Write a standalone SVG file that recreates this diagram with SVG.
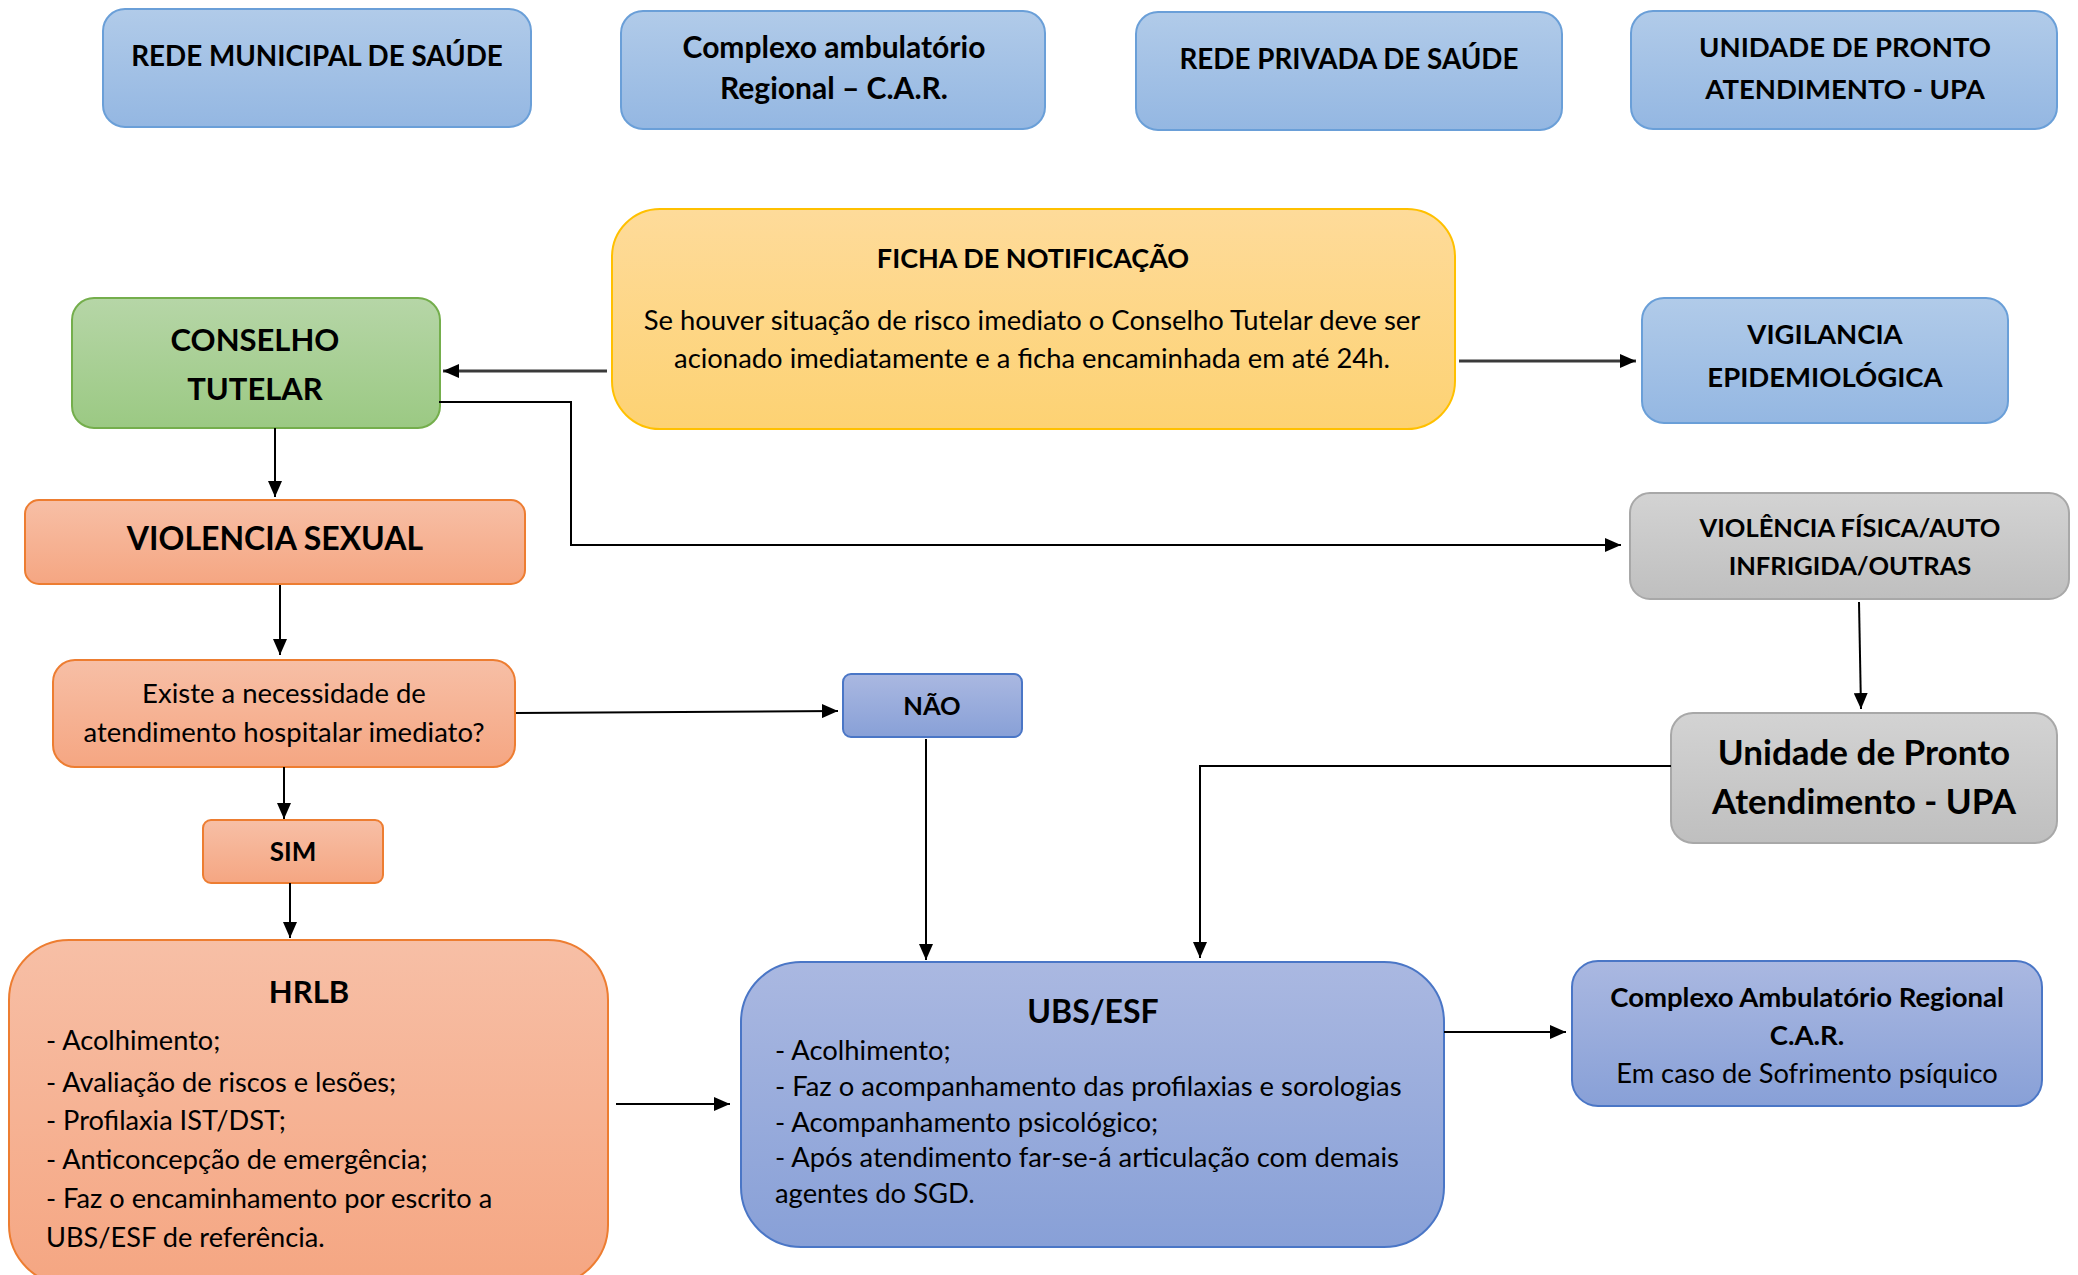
<svg xmlns="http://www.w3.org/2000/svg" width="2078" height="1275" viewBox="0 0 2078 1275">
<defs>
<linearGradient id="gBlue" x1="0" y1="0" x2="0" y2="1"><stop offset="0" stop-color="#b1cbe9"/><stop offset="1" stop-color="#94b7e2"/></linearGradient>
<linearGradient id="gYellow" x1="0" y1="0" x2="0" y2="1"><stop offset="0" stop-color="#fedb9a"/><stop offset="1" stop-color="#fdd273"/></linearGradient>
<linearGradient id="gGreen" x1="0" y1="0" x2="0" y2="1"><stop offset="0" stop-color="#b6d6a7"/><stop offset="1" stop-color="#9bc983"/></linearGradient>
<linearGradient id="gOrange" x1="0" y1="0" x2="0" y2="1"><stop offset="0" stop-color="#f7bfa6"/><stop offset="1" stop-color="#f5a682"/></linearGradient>
<linearGradient id="gGray" x1="0" y1="0" x2="0" y2="1"><stop offset="0" stop-color="#d3d3d3"/><stop offset="1" stop-color="#bfbfbf"/></linearGradient>
<linearGradient id="gPurple" x1="0" y1="0" x2="0" y2="1"><stop offset="0" stop-color="#aab8e1"/><stop offset="1" stop-color="#88a0d7"/></linearGradient>
<marker id="arr" viewBox="0 0 16 14" refX="16" refY="7" markerWidth="16" markerHeight="14" markerUnits="userSpaceOnUse" orient="auto">
<path d="M0,0 L16,7 L0,14 Z" fill="#000"/>
</marker>
</defs>
<style>
text{font-family:Lato,"Liberation Sans",sans-serif;fill:#000;}
.b{font-weight:bold;}
.c{text-anchor:middle;}
.blue{fill:url(#gBlue);stroke:#6a9fd8;stroke-width:2;}
.yellow{fill:url(#gYellow);stroke:#ffc000;stroke-width:2;}
.green{fill:url(#gGreen);stroke:#74ae4c;stroke-width:2;}
.orange{fill:url(#gOrange);stroke:#ed7d31;stroke-width:2;}
.gray{fill:url(#gGray);stroke:#a8a8a8;stroke-width:2;}
.purple{fill:url(#gPurple);stroke:#4a76c6;stroke-width:2;}
.con{fill:none;stroke:#000;stroke-width:2;}
.con2{fill:none;stroke:#3a3a3a;stroke-width:3;}
</style>
<rect width="2078" height="1275" fill="#fff"/>

<g id="rede-municipal">
<rect class="blue" x="103" y="9" width="428" height="118" rx="22"/>
<text class="b c" x="317" y="66" font-size="27.8">REDE MUNICIPAL DE SAÚDE</text>
</g>
<g id="complexo-top">
<rect class="blue" x="621" y="11" width="424" height="118" rx="22"/>
<text class="b c" x="834" y="58" font-size="30">Complexo ambulatório</text>
<text class="b c" x="834" y="99" font-size="30">Regional – C.A.R.</text>
</g>
<g id="rede-privada">
<rect class="blue" x="1136" y="12" width="426" height="118" rx="22"/>
<text class="b c" x="1349" y="69" font-size="27.8">REDE PRIVADA DE SAÚDE</text>
</g>
<g id="upa-top">
<rect class="blue" x="1631" y="11" width="426" height="118" rx="22"/>
<text class="b c" x="1845" y="57" font-size="27.5">UNIDADE DE PRONTO</text>
<text class="b c" x="1845" y="99" font-size="27.5">ATENDIMENTO - UPA</text>
</g>

<g id="ficha">
<rect class="yellow" x="612" y="209" width="843" height="220" rx="48"/>
<text class="b c" x="1033" y="268" font-size="27">FICHA DE NOTIFICAÇÃO</text>
<text class="c" x="1032" y="330" font-size="27.4">Se houver situação de risco imediato o Conselho Tutelar deve ser</text>
<text class="c" x="1032" y="368" font-size="27.4">acionado imediatamente e a ficha encaminhada em até 24h.</text>
</g>
<g id="conselho">
<rect class="green" x="72" y="298" width="368" height="130" rx="22"/>
<text class="b c" x="255" y="351" font-size="31">CONSELHO</text>
<text class="b c" x="255" y="400" font-size="31">TUTELAR</text>
</g>
<g id="vigilancia">
<rect class="blue" x="1642" y="298" width="366" height="125" rx="22"/>
<text class="b c" x="1825" y="344" font-size="27.5">VIGILANCIA</text>
<text class="b c" x="1825" y="387" font-size="27.5">EPIDEMIOLÓGICA</text>
</g>
<g id="violencia-sexual">
<rect class="orange" x="25" y="500" width="500" height="84" rx="14"/>
<text class="b c" x="275" y="550" font-size="32">VIOLENCIA SEXUAL</text>
</g>
<g id="violencia-fisica">
<rect class="gray" x="1630" y="493" width="439" height="106" rx="20"/>
<text class="b c" x="1850" y="537" font-size="25.5">VIOLÊNCIA FÍSICA/AUTO</text>
<text class="b c" x="1850" y="575" font-size="25.5">INFRIGIDA/OUTRAS</text>
</g>
<g id="existe">
<rect class="orange" x="53" y="660" width="462" height="107" rx="22"/>
<text class="c" x="284" y="703" font-size="27.5">Existe a necessidade de</text>
<text class="c" x="284" y="742" font-size="27.5">atendimento hospitalar imediato?</text>
</g>
<g id="nao">
<rect class="purple" x="843" y="674" width="179" height="63" rx="8"/>
<text class="b c" x="932" y="715" font-size="25.5">NÃO</text>
</g>
<g id="upa">
<rect class="gray" x="1671" y="713" width="386" height="130" rx="22"/>
<text class="b c" x="1864" y="765" font-size="35">Unidade de Pronto</text>
<text class="b c" x="1864" y="814" font-size="35">Atendimento - UPA</text>
</g>
<g id="sim">
<rect class="orange" x="203" y="820" width="180" height="63" rx="8"/>
<text class="b c" x="293" y="861" font-size="26">SIM</text>
</g>
<g id="hrlb">
<rect class="orange" x="9" y="940" width="599" height="345" rx="60"/>
<text class="b c" x="309" y="1003" font-size="31">HRLB</text>
<text x="46" y="1050" font-size="27.2">- Acolhimento;</text>
<text x="46" y="1092" font-size="27.2">- Avaliação de riscos e lesões;</text>
<text x="46" y="1130" font-size="27.2">- Profilaxia IST/DST;</text>
<text x="46" y="1169" font-size="27.2">- Anticoncepção de emergência;</text>
<text x="46" y="1208" font-size="27.2">- Faz o encaminhamento por escrito a</text>
<text x="46" y="1247" font-size="27.2">UBS/ESF de referência.</text>
</g>
<g id="ubs">
<rect class="purple" x="741" y="962" width="703" height="285" rx="60"/>
<text class="b c" x="1093" y="1023" font-size="32">UBS/ESF</text>
<text x="775" y="1060" font-size="27.4">- Acolhimento;</text>
<text x="775" y="1096" font-size="27.4">- Faz o acompanhamento das profilaxias e sorologias</text>
<text x="775" y="1132" font-size="27.4">- Acompanhamento psicológico;</text>
<text x="775" y="1167" font-size="27.4">- Após atendimento far-se-á articulação com demais</text>
<text x="775" y="1203" font-size="27.4">agentes do SGD.</text>
</g>
<g id="car">
<rect class="purple" x="1572" y="961" width="470" height="145" rx="26"/>
<text class="b c" x="1807" y="1007" font-size="27.5">Complexo Ambulatório Regional</text>
<text class="b c" x="1807" y="1045" font-size="27.5">C.A.R.</text>
<text class="c" x="1807" y="1083" font-size="27.3">Em caso de Sofrimento psíquico</text>
</g>

<g id="connectors">
<path class="con2" d="M607,371 L443,371" marker-end="url(#arr)"/>
<path class="con2" d="M1459,361 L1636,361" marker-end="url(#arr)"/>
<path class="con" d="M275,428 L275,497" marker-end="url(#arr)"/>
<path class="con" d="M439,402 L571,402 L571,545 L1621,545" marker-end="url(#arr)"/>
<path class="con" d="M280,585 L280,655" marker-end="url(#arr)"/>
<path class="con" d="M516,713 L838,711" marker-end="url(#arr)"/>
<path class="con" d="M284,767 L284,819" marker-end="url(#arr)"/>
<path class="con" d="M290,883 L290,938" marker-end="url(#arr)"/>
<path class="con" d="M926,739 L926,960" marker-end="url(#arr)"/>
<path class="con" d="M1859,602 L1861,709" marker-end="url(#arr)"/>
<path class="con" d="M1671,766 L1200,766 L1200,958" marker-end="url(#arr)"/>
<path class="con" d="M616,1104 L730,1104" marker-end="url(#arr)"/>
<path class="con" d="M1444,1032 L1566,1032" marker-end="url(#arr)"/>
</g>
</svg>
